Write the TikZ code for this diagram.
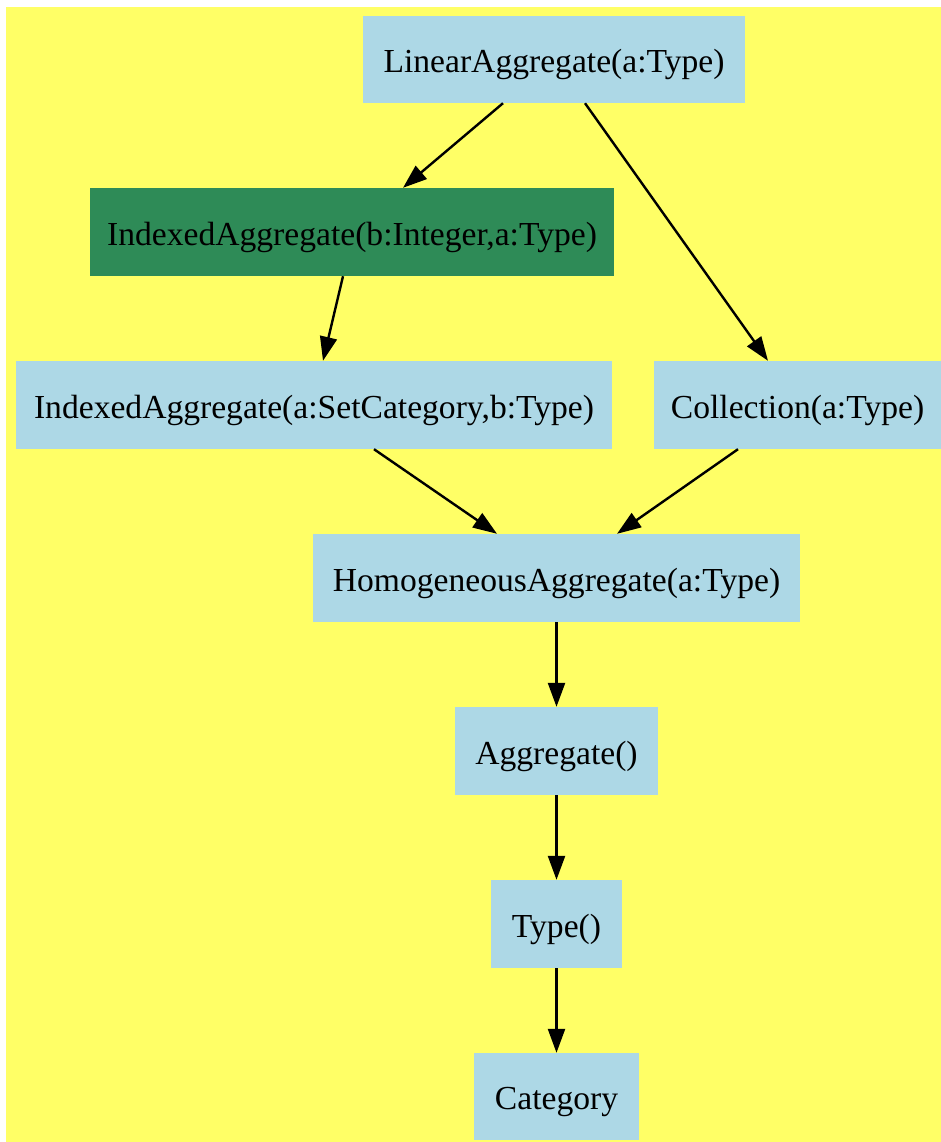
\documentclass[tikz,border=0pt]{standalone}
\usepackage{fontspec}
\setmainfont{Liberation Serif}
\usetikzlibrary{arrows.meta}
\definecolor{bgyellow}{HTML}{FFFF66}
\definecolor{boxblue}{HTML}{ADD8E6}
\definecolor{boxgreen}{HTML}{2E8B57}
\tikzset{
  box/.style={rectangle, fill=boxblue, draw=none, inner sep=0pt, anchor=center,
    font=\fontsize{33.6}{40}\selectfont, text=black, text height=26pt, text depth=0pt},
  gbox/.style={box, fill=boxgreen},
  edge/.style={line width=2.4pt, -{Triangle[length=24pt,width=17pt]}},
}
\begin{document}
\begin{tikzpicture}[x=1pt,y=-1pt]
\useasboundingbox (0,0) rectangle (941,1142);
\fill[bgyellow] (6,7) rectangle (941,1142);
\node[box, minimum width=382pt, minimum height=87pt] (la) at (554,59.5) {LinearAggregate(a:Type)};
\node[gbox, minimum width=524pt, minimum height=88pt] (ib) at (352,232) {IndexedAggregate(b:Integer,a:Type)};
\node[box, minimum width=596pt, minimum height=88pt] (ia) at (314,405) {IndexedAggregate(a:SetCategory,b:Type)};
\node[box, minimum width=287pt, minimum height=88pt] (col) at (797.5,405) {Collection(a:Type)};
\node[box, minimum width=487pt, minimum height=88pt] (h) at (556.5,578) {HomogeneousAggregate(a:Type)};
\node[box, minimum width=203pt, minimum height=88pt] (ag) at (556.5,751) {Aggregate()};
\node[box, minimum width=131pt, minimum height=88pt] (ty) at (556.5,924) {Type()};
\node[box, minimum width=165pt, minimum height=87pt] (cat) at (556.5,1096.5) {Category};
\draw[edge] ([xshift=-51pt]la.south) -- ([xshift=51pt]ib.north);
\draw[edge] ([xshift=31pt]la.south) -- ([xshift=-29.5pt]col.north);
\draw[edge] ([xshift=-9pt]ib.south) -- ([xshift=9pt]ia.north);
\draw[edge] ([xshift=60pt]ia.south) -- ([xshift=-59.5pt]h.north);
\draw[edge] ([xshift=-59.5pt]col.south) -- ([xshift=60.5pt]h.north);
\draw[edge] (h.south) -- (ag.north);
\draw[edge] (ag.south) -- (ty.north);
\draw[edge] (ty.south) -- (cat.north);
\end{tikzpicture}
\end{document}
